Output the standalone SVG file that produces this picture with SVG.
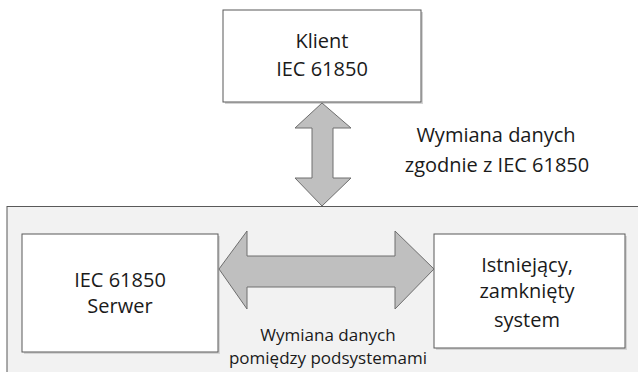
<svg xmlns="http://www.w3.org/2000/svg" width="638" height="372" viewBox="0 0 638 372">
<defs>
<style>
.box{fill:#ffffff;stroke:#595959;stroke-width:1}
.shadow{fill:#d4d4d4}
.arrow{fill:#bfbfbf;stroke:#6e6e6e;stroke-width:1;stroke-linejoin:miter}
.t{font-family:"Open Sans","Liberation Sans",sans-serif;font-size:20px;fill:#1a1a1a;text-anchor:middle}
.s{font-size:17px}
</style>
</defs>
<rect x="7" y="206.5" width="640" height="180" fill="#f2f2f2" stroke="#595959" stroke-width="1"/>
<g id="klient">
<rect class="shadow" x="225" y="12" width="198" height="92"/>
<rect class="box" x="223" y="10" width="198" height="92"/>
<text class="t" x="322" y="48">Klient</text>
<text class="t" x="322" y="76">IEC 61850</text>
</g>
<g id="serwer">
<rect class="shadow" x="24" y="236" width="196" height="118"/>
<rect class="box" x="22" y="234" width="196" height="118"/>
<text class="t" x="120" y="287">IEC 61850</text>
<text class="t" x="120" y="313">Serwer</text>
</g>
<g id="system">
<rect class="shadow" x="436" y="236" width="191" height="114"/>
<rect class="box" x="434" y="234" width="191" height="114"/>
<text class="t" x="527" y="272">Istniejący,</text>
<text class="t" x="527" y="298">zamknięty</text>
<text class="t" x="527" y="327">system</text>
</g>
<g id="connectors">
<path class="arrow" d="M322,103 L351,128 L333,128 L333,178 L351,178 L322,206 L295,178 L312,178 L312,128 L295,128 Z"/>
<path class="arrow" d="M219,269 L247,231 L247,256 L395,256 L395,231 L434,269 L395,309 L395,287 L247,287 L247,309 Z"/>
<text class="t" x="496" y="142">Wymiana danych</text>
<text class="t" x="497" y="172">zgodnie z IEC 61850</text>
<text class="t s" x="328" y="341">Wymiana danych</text>
<text class="t s" x="328" y="364">pomiędzy podsystemami</text>
</g>
</svg>
